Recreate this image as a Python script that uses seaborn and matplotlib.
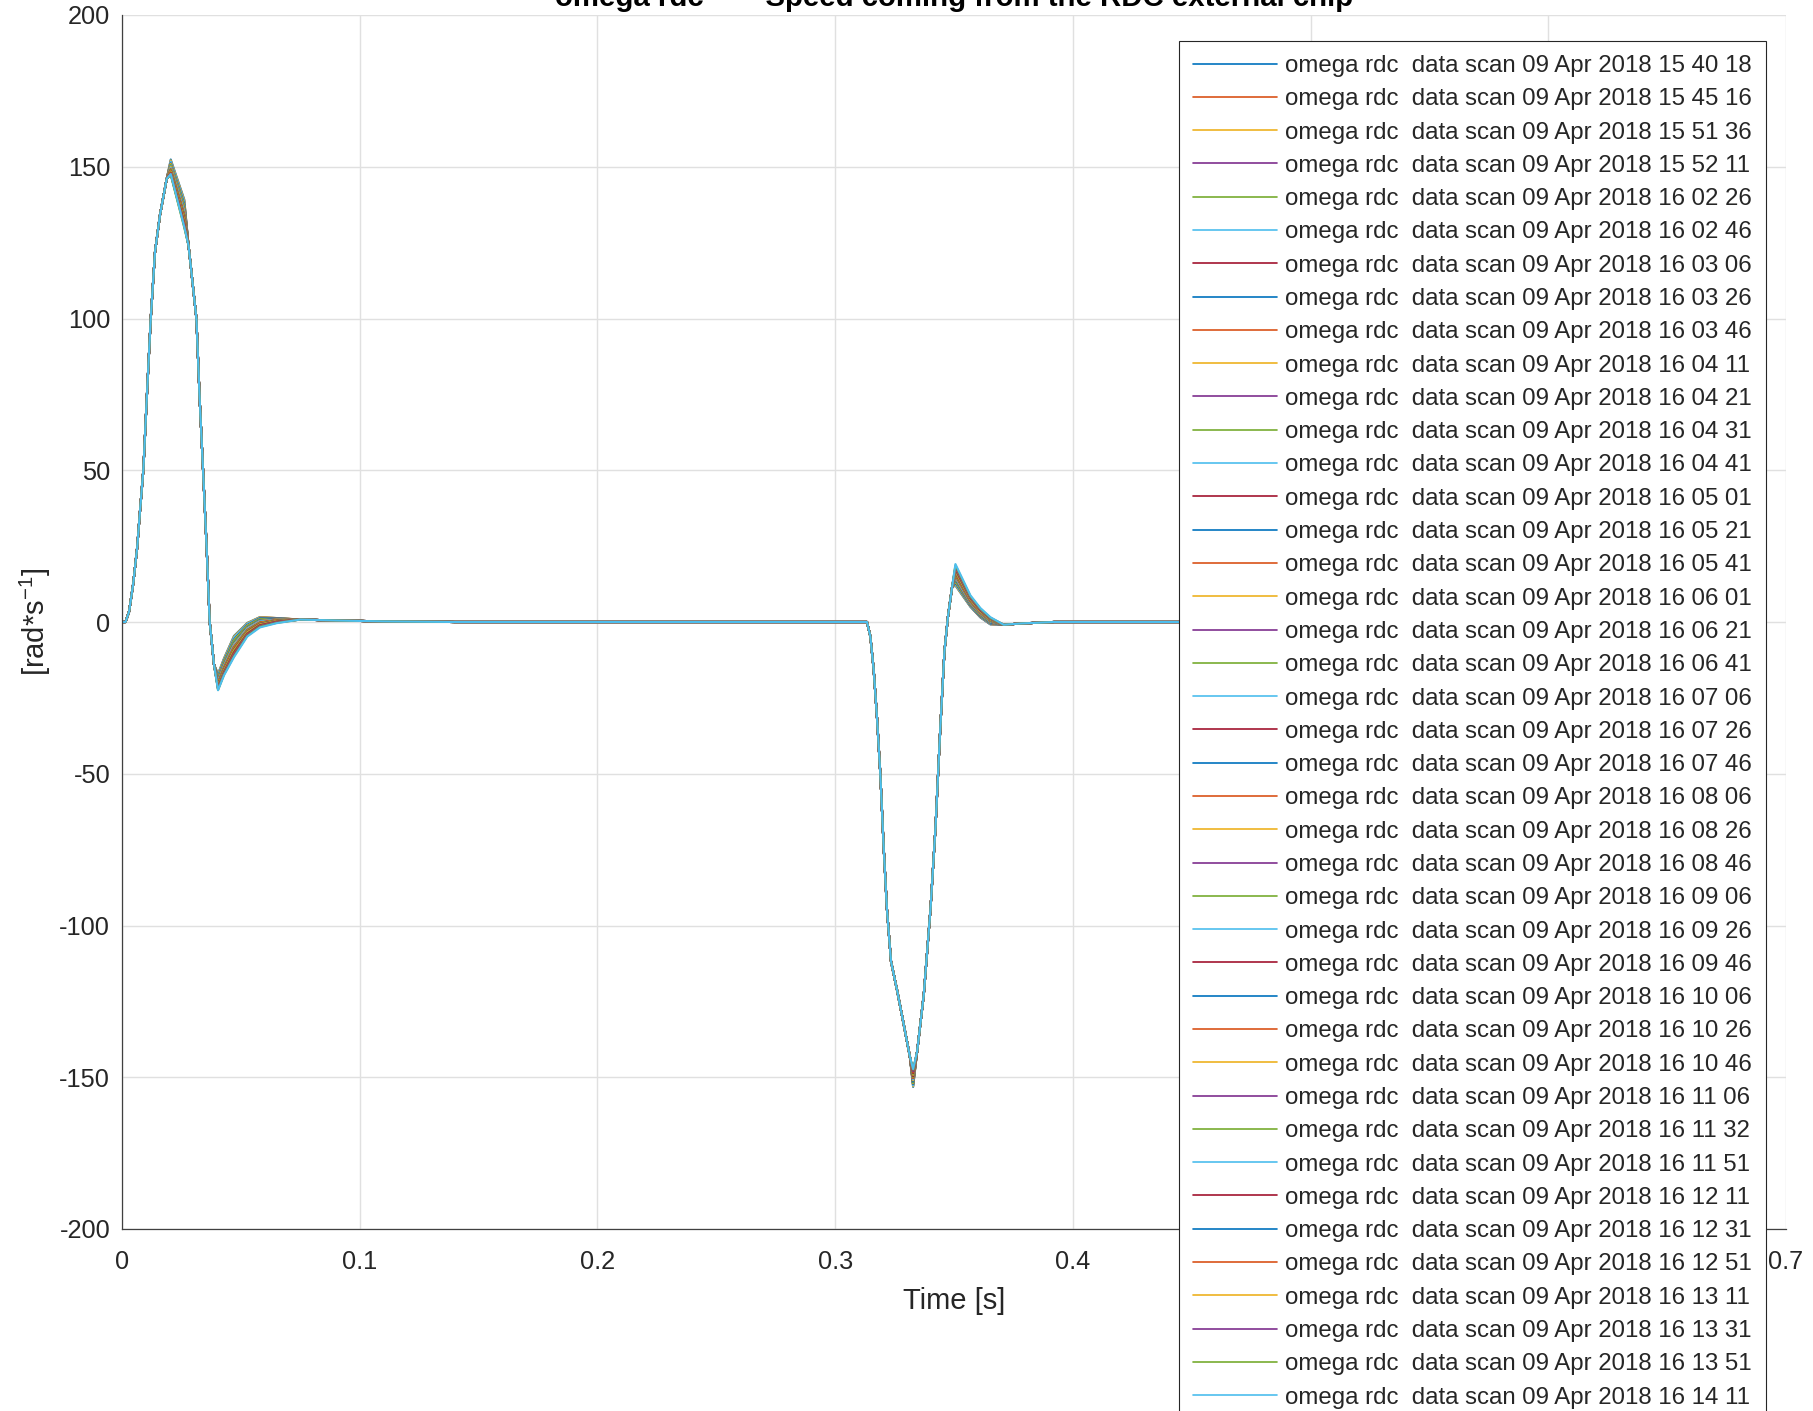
import matplotlib
matplotlib.use('Agg')
import matplotlib.pyplot as plt
import seaborn as sns
import pandas as pd

# ---------------- data ----------------
scan_times = ['15 40 18', '15 45 16', '15 51 36', '15 52 11', '16 02 26', '16 02 46', '16 03 06',
              '16 03 26', '16 03 46', '16 04 11', '16 04 21', '16 04 31', '16 04 41', '16 05 01',
              '16 05 21', '16 05 41', '16 06 01', '16 06 21', '16 06 41', '16 07 06', '16 07 26',
              '16 07 46', '16 08 06', '16 08 26', '16 08 46', '16 09 06', '16 09 26', '16 09 46',
              '16 10 06', '16 10 26', '16 10 46', '16 11 06', '16 11 32', '16 11 51', '16 12 11',
              '16 12 31', '16 12 51', '16 13 11', '16 13 31', '16 13 51', '16 14 11']
labels = ['omega rdc  data scan 09 Apr 2018 ' + s for s in scan_times]

# sample times [s]
t_knots = [0.0, 0.0015, 0.0030, 0.0047, 0.0064, 0.0076, 0.0090, 0.0104, 0.0121, 0.0139, 0.0160, 0.0188,
           0.0205, 0.0262, 0.0280, 0.0313, 0.0327, 0.0341, 0.0356, 0.0369, 0.0387, 0.0404,
           0.0429, 0.0471, 0.0527, 0.0580, 0.0650, 0.0750, 0.0900, 0.1100, 0.1400, 0.3134,
           0.3148, 0.3162, 0.3176, 0.3190, 0.3204, 0.3218, 0.3235, 0.3261, 0.3288, 0.3314, 0.3328,
           0.3345, 0.3373, 0.3401, 0.3422, 0.3443, 0.3460, 0.3475, 0.3492, 0.3506,
           0.3569, 0.3611, 0.3653, 0.3709, 0.3780, 0.3920, 0.6000]
# values shared by all scans (None = scan-specific value, taken in order from the lists below)
common_values = [0.0, 0.0, 3.5, 12.5, 24.6, 36.8, 50.3, 73.4, 100.1, 122.0, 134.2, 146.0,
                 None, None, 124.0, 100.0, 73.0, 50.0, 24.6, 0.0, -14.0, None,
                 None, None, None, None, None, 0.8, 0.5, 0.2, 0.0, 0.0,
                 -4.7, -15.6, -31.4, -50.0, -74.0, -94.7, -111.8, -121.5, -132.4, -143.0, None,
                 -141.5, -122.7, -94.7, -68.0, -33.9, -9.5, 2.0, 11.5, None,
                 None, None, None, -0.9, -0.5, 0.0, 0.0]

peak1 = [152.4, 151.9, 152.1, 151.6, 151.3, 151.7, 151.0, 151.1, 150.7, 150.9, 150.4, 150.6, 150.2, 149.9,
         150.1, 149.7, 150.0, 149.5, 149.3, 149.6, 149.1, 148.9, 149.2, 148.8, 148.6, 149.0, 148.4, 148.7,
         148.3, 148.1, 148.5, 148.0, 148.2, 147.8, 148.0, 147.6, 147.9, 147.5, 147.7, 147.3, 147.6]
shoulder1 = [139.2, 138.7, 138.9, 138.2, 137.8, 138.3, 137.3, 137.6, 136.9, 137.1, 136.5, 136.8, 136.1, 135.7,
             136.0, 135.3, 135.6, 134.9, 134.5, 135.0, 134.1, 133.7, 134.2, 133.4, 133.0, 133.6, 132.6, 133.0,
             132.2, 131.8, 132.4, 131.5, 131.9, 131.1, 131.4, 130.7, 131.1, 130.3, 130.6, 129.9, 130.2]
dip1 = [-17.1, -17.4, -17.2, -17.7, -18.0, -17.6, -18.3, -18.1, -18.5, -18.4, -18.8, -18.6, -19.1, -19.3,
        -19.1, -19.5, -19.4, -19.8, -20.0, -19.7, -20.2, -20.4, -20.1, -20.6, -20.8, -20.5, -21.0, -20.8,
        -21.2, -21.4, -21.1, -21.6, -21.4, -21.8, -21.7, -22.0, -21.9, -22.2, -22.1, -22.4, -22.5]
rec1_a = [-12.0, -12.3, -12.1, -12.6, -12.9, -12.5, -13.1, -12.9, -13.4, -13.2, -13.7, -13.5, -14.0, -14.2,
          -14.0, -14.4, -14.3, -14.7, -14.9, -14.6, -15.1, -15.3, -15.0, -15.5, -15.7, -15.4, -15.9, -15.7,
          -16.1, -16.3, -16.0, -16.5, -16.3, -16.7, -16.6, -16.9, -16.8, -17.1, -17.0, -17.4, -17.6]
rec1_b = [-4.6, -5.0, -4.8, -5.3, -5.7, -5.2, -6.0, -5.8, -6.3, -6.1, -6.6, -6.4, -7.0, -7.2,
          -7.0, -7.5, -7.3, -7.8, -8.1, -7.7, -8.3, -8.5, -8.2, -8.8, -9.0, -8.7, -9.3, -9.1,
          -9.5, -9.8, -9.4, -10.0, -9.8, -10.3, -10.1, -10.6, -10.4, -10.9, -10.8, -11.3, -11.6]
rec1_c = [-0.3, -0.5, -0.4, -0.7, -0.9, -0.6, -1.1, -1.0, -1.3, -1.2, -1.5, -1.4, -1.8, -1.9,
          -1.8, -2.1, -2.0, -2.3, -2.5, -2.2, -2.7, -2.8, -2.6, -3.0, -3.1, -2.9, -3.3, -3.2,
          -3.5, -3.6, -3.4, -3.8, -3.7, -4.0, -3.9, -4.2, -4.1, -4.4, -4.3, -4.6, -4.8]
rec1_d = [1.6, 1.5, 1.6, 1.4, 1.3, 1.4, 1.1, 1.2, 1.0, 1.0, 0.8, 0.9, 0.6, 0.5,
          0.6, 0.3, 0.4, 0.2, 0.0, 0.2, -0.2, -0.3, -0.1, -0.4, -0.5, -0.4, -0.7, -0.6,
          -0.8, -0.9, -0.8, -1.1, -1.0, -1.2, -1.1, -1.4, -1.3, -1.5, -1.4, -1.6, -1.8]
rec1_e = [1.3, 1.3, 1.3, 1.2, 1.2, 1.2, 1.1, 1.1, 1.0, 1.0, 1.0, 1.0, 0.9, 0.9,
          0.9, 0.8, 0.8, 0.7, 0.7, 0.7, 0.6, 0.5, 0.6, 0.5, 0.4, 0.5, 0.3, 0.4,
          0.3, 0.2, 0.3, 0.1, 0.2, 0.0, 0.1, -0.1, 0.0, -0.2, -0.1, -0.3, -0.4]
dip2 = [-153.2, -152.9, -153.0, -152.6, -152.4, -152.7, -152.1, -152.3, -151.9, -152.0, -151.6, -151.8,
        -151.3, -151.1, -151.4, -150.9, -151.0, -150.6, -150.4, -150.7, -150.2, -150.0, -150.3, -149.8,
        -149.6, -149.9, -149.4, -149.6, -149.1, -148.9, -149.2, -148.7, -148.9, -148.4, -148.6, -148.1,
        -148.3, -147.8, -148.0, -147.5, -147.3]
peak2 = [12.0, 12.3, 12.1, 12.6, 12.9, 12.5, 13.1, 12.9, 13.4, 13.3, 13.7, 13.6, 14.1, 14.3,
         14.1, 14.6, 14.5, 14.9, 15.2, 14.9, 15.5, 15.7, 15.4, 16.0, 16.2, 15.9, 16.5, 16.3,
         16.8, 17.0, 16.7, 17.3, 17.1, 17.6, 17.5, 17.9, 17.8, 18.3, 18.2, 18.7, 19.1]
decay2_a = [5.0, 5.2, 5.1, 5.3, 5.5, 5.3, 5.6, 5.5, 5.8, 5.7, 5.9, 5.9, 6.1, 6.2,
            6.1, 6.4, 6.3, 6.5, 6.7, 6.5, 6.8, 6.9, 6.8, 7.1, 7.2, 7.0, 7.3, 7.2,
            7.5, 7.6, 7.4, 7.8, 7.7, 7.9, 7.9, 8.1, 8.0, 8.3, 8.2, 8.5, 8.8]
decay2_b = [1.5, 1.6, 1.6, 1.7, 1.9, 1.7, 2.0, 1.9, 2.1, 2.1, 2.3, 2.2, 2.4, 2.5,
            2.4, 2.6, 2.6, 2.8, 2.9, 2.8, 3.0, 3.1, 3.0, 3.2, 3.3, 3.2, 3.4, 3.4,
            3.6, 3.7, 3.5, 3.8, 3.8, 4.0, 3.9, 4.1, 4.1, 4.3, 4.2, 4.4, 4.6]
decay2_c = [-0.8, -0.7, -0.7, -0.6, -0.5, -0.6, -0.4, -0.4, -0.3, -0.3, -0.2, -0.2, -0.1, 0.0,
            -0.1, 0.1, 0.1, 0.2, 0.3, 0.2, 0.4, 0.4, 0.4, 0.5, 0.6, 0.5, 0.7, 0.7,
            0.8, 0.9, 0.8, 1.0, 1.0, 1.1, 1.1, 1.2, 1.2, 1.3, 1.3, 1.4, 1.6]

varying = [peak1, shoulder1, dip1, rec1_a, rec1_b, rec1_c, rec1_d, rec1_e,
           dip2, peak2, decay2_a, decay2_b, decay2_c]
assert len(t_knots) == len(common_values)

matlab_colors = ['#0072BD', '#D95319', '#EDB120', '#7E2F8E', '#77AC30', '#4DBEEE', '#A2142F']

# ---------------- style ----------------
sns.set_style('white')
plt.rcParams['font.family'] = ['Liberation Sans', 'DejaVu Sans']
plt.rcParams['mathtext.default'] = 'regular'
plt.rcParams['axes.unicode_minus'] = False

W, H = 1813, 1411
fig = plt.figure(figsize=(W / 100, H / 100), dpi=100)
ax = fig.add_axes([122 / W, 1 - 1229 / H, (1786 - 122) / W, (1229 - 15) / H])

for i, lab in enumerate(labels):
    vals = []
    k = 0
    for v in common_values:
        if v is None:
            vals.append(varying[k][i])
            k += 1
        else:
            vals.append(v)
    df = pd.DataFrame({'Time': t_knots, 'omega': vals})
    sns.lineplot(data=df, x='Time', y='omega', color=matlab_colors[i % 7], linewidth=1.5,
                 label=lab, ax=ax, sort=False, estimator=None)

ax.set_xlim(0, 0.7)
ax.set_ylim(-200, 200)
ax.set_xticks([0, 0.1, 0.2, 0.3, 0.4, 0.5, 0.6, 0.7])
ax.set_xticklabels(['0', '0.1', '0.2', '0.3', '0.4', '0.5', '0.6', '0.7'])
ax.set_yticks([-200, -150, -100, -50, 0, 50, 100, 150, 200])
ax.set_yticklabels(['-200', '-150', '-100', '-50', '0', '50', '100', '150', '200'])

ax.grid(True, color='#e0e0e0', linewidth=1.0)
ax.set_axisbelow(True)
for s in ['top', 'right']:
    ax.spines[s].set_visible(False)
for s in ['left', 'bottom']:
    ax.spines[s].set_color('#404040')
    ax.spines[s].set_linewidth(0.9)
ax.tick_params(axis='both', direction='in', length=12, width=0.9, color='#404040',
               labelsize=18.3, labelcolor='#262626')
ax.tick_params(axis='y', pad=8.5)
ax.tick_params(axis='x', pad=15)

ax.set_xlabel('Time [s]', fontsize=21, color='#262626')
ax.set_ylabel('[rad*s$^{-1}$]', fontsize=21, color='#262626')
ax.xaxis.set_label_coords(0.5, -0.048)
ax.yaxis.set_label_coords(-0.0414, 0.5)

ax.set_title('omega rdc  \u2014  Speed coming from the RDC external chip',
             fontsize=21.2, fontweight='bold', pad=6.5, color='black')

handles, labs = ax.get_legend_handles_labels()
leg = ax.legend(handles, labs, loc='upper left', bbox_to_anchor=(1179 / W, 1 - 41 / H),
                bbox_transform=fig.transFigure, fontsize=17.3, frameon=True, fancybox=False,
                framealpha=1, edgecolor='#262626', borderpad=0.58, borderaxespad=0,
                handlelength=3.5, handletextpad=0.33, labelspacing=0.47)
leg.get_frame().set_linewidth(0.8)
for ln in leg.get_lines():
    ln.set_linewidth(1.2)

fig.savefig('out.png', dpi=100)
